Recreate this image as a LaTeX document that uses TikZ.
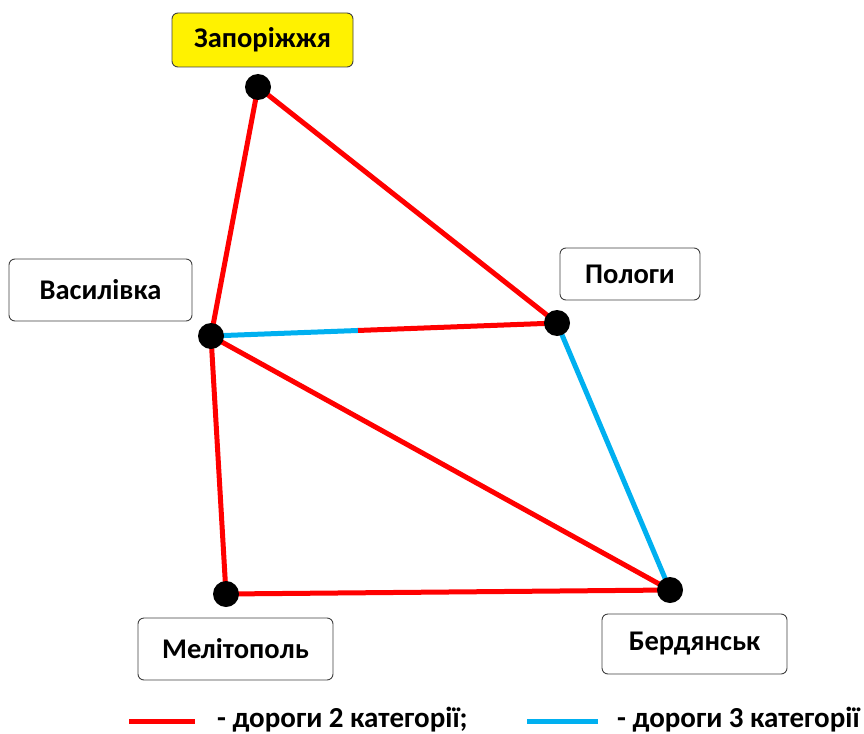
\documentclass[tikz,border=0pt]{standalone}
\usepackage{fontspec}
\setmainfont{Carlito}
\usetikzlibrary{calc}
\definecolor{roadblue}{RGB}{0,176,240}
\begin{document}
\begin{tikzpicture}[x=1pt,y=-1pt,
  city/.style={draw=black!75,line width=0.9pt,rounded corners=6pt,fill=white,font=\bfseries\fontsize{28.5}{32}\selectfont,inner sep=0pt},
  dot/.style={circle,fill=black,minimum size=26pt,inner sep=0pt},
  road2/.style={draw=red,line width=5pt},
  road3/.style={draw=roadblue,line width=5pt},
  legend/.style={font=\bfseries\fontsize{29}{32}\selectfont,anchor=base west,inner sep=0pt}]
\useasboundingbox (0,0) rectangle (864,733);
% city boxes
\node[city,fill=yellow,minimum width=181pt,minimum height=54pt] (tz) at (262.5,40) {Запоріжжя};
\node[city,minimum width=183pt,minimum height=62pt] (tv) at (100.5,290) {Василівка};
\node[city,minimum width=140pt,minimum height=52pt] (tp) at (630,274) {Пологи};
\node[city,minimum width=195pt,minimum height=62pt] (tm) at (235.5,649) {Мелітополь};
\node[city,minimum width=185pt,minimum height=60pt] (tb) at (694.5,644) {Бердянськ};
% points
\coordinate (z) at (258,87);
\coordinate (v) at (211,336);
\coordinate (p) at (557,323);
\coordinate (m) at (226,594);
\coordinate (b) at (670,590);
\coordinate (vp) at ($(v)!0.425!(p)$);
% roads
\draw[road2] (z) -- (v);
\draw[road2] (z) -- (p);
\draw[road3] (v) -- (vp);
\draw[road2] (vp) -- (p);
\draw[road3] (p) -- (b);
\draw[road2] (v) -- (b);
\draw[road2] (v) -- (m);
\draw[road2] (m) -- (b);
\node[dot] (dz) at (z) {};
\node[dot] (dv) at (v) {};
\node[dot] (dp) at (p) {};
\node[dot] (dm) at (m) {};
\node[dot] (db) at (b) {};
% legend
\coordinate (l1a) at (129,721);
\coordinate (l1b) at (195,721);
\coordinate (l2a) at (527,721);
\coordinate (l2b) at (598,721);
\draw[road2] (l1a) -- (l1b);
\draw[road3] (l2a) -- (l2b);
\node[legend] (t1) at (217,727) {- дороги 2 категорії;};
\node[legend] (t2) at (617,727) {- дороги 3 категорії};
\end{tikzpicture}
\end{document}
